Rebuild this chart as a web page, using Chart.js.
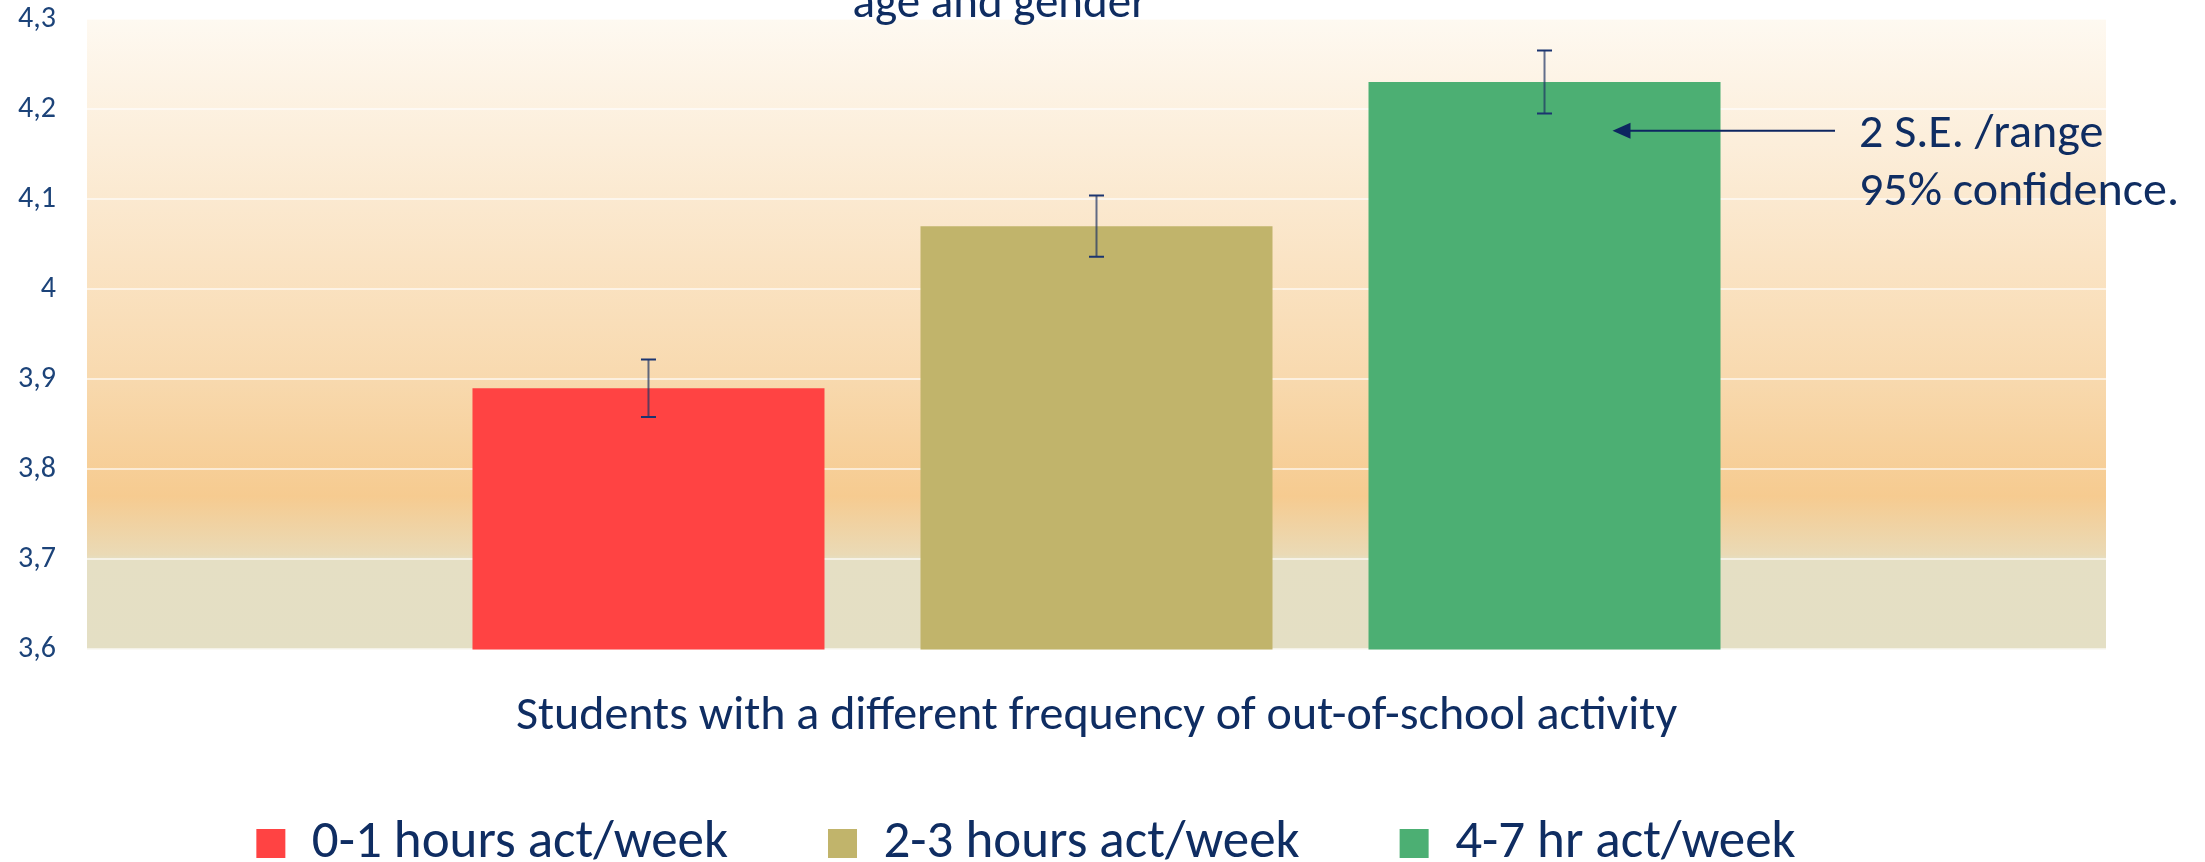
<!DOCTYPE html>
<html>
<head>
<meta charset="utf-8">
<script src="https://cdn.jsdelivr.net/npm/chart.js@4.4.1/dist/chart.umd.min.js"></script>
<style>
  html, body { margin: 0; padding: 0; background: #fff; }
  #wrap { width: 2205px; height: 862px; }
</style>
</head>
<body>
<div id="wrap"><canvas id="chart" width="2205" height="862"></canvas></div>
<script>
// data
const groups = ['0-1 hours act/week', '2-3 hours act/week', '4-7 hr act/week'];
const means = [3.89, 4.07, 4.23];
const errors = [0.032, 0.034, 0.035];   // 2 S.E.
const barColors = ['#ff4343', '#c1b46b', '#4caf73'];
const yTicks = [3.6, 3.7, 3.8, 3.9, 4.0, 4.1, 4.2, 4.3];
const xTitle = 'Students with a different frequency of out-of-school activity';
const titleTail = 'age and gender';
const noteLines = ['2 S.E. /range', '95% confidence.'];
const noteValue = 4.176;

const navy = '#0f2d62';
const fontFamily = 'Carlito, Lato, "Open Sans", sans-serif';
Chart.defaults.font.family = fontFamily;

// orange slide-style background behind the plot
const bgPlugin = {
  id: 'bg',
  beforeDraw(chart) {
    const { ctx, chartArea: a, scales: { y } } = chart;
    const g = ctx.createLinearGradient(0, a.top, 0, a.bottom);
    const stop = (v, c) => {
      const t = (y.getPixelForValue(v) - a.top) / (a.bottom - a.top);
      g.addColorStop(Math.min(1, Math.max(0, t)), c);
    };
    stop(4.3, '#fef9f1');
    stop(4.1, '#fbe9d0');
    stop(3.9, '#f8d9ae');
    stop(3.77, '#f6cb90');
    stop(3.705, '#eadab6');
    stop(3.7, '#e5dfc4');
    stop(3.6, '#e4dfc4');
    ctx.save();
    ctx.fillStyle = g;
    ctx.fillRect(a.left, a.top, a.right - a.left, a.bottom - a.top);
    ctx.restore();
  }
};

// error bars, title tail and the arrow note
const extrasPlugin = {
  id: 'extras',
  afterLayout(chart) {
    // nudge the legend row left like the original slide
    chart.legend.left -= 27;
    chart.legend.right -= 27;
  },
  afterDatasetsDraw(chart) {
    const { ctx, chartArea: a, scales: { y } } = chart;
    ctx.save();
    means.forEach((m, i) => {
      const bar = chart.getDatasetMeta(i).data[0];
      const top = y.getPixelForValue(m + errors[i]);
      const bot = y.getPixelForValue(m - errors[i]);
      ctx.strokeStyle = 'rgba(31,52,100,0.7)';
      ctx.lineWidth = 2;
      ctx.beginPath();
      ctx.moveTo(bar.x, top);
      ctx.lineTo(bar.x, bot);
      ctx.stroke();
      ctx.strokeStyle = '#1b3470';
      ctx.beginPath();
      ctx.moveTo(bar.x - 7.5, top);
      ctx.lineTo(bar.x + 7.5, top);
      ctx.moveTo(bar.x - 7.5, bot);
      ctx.lineTo(bar.x + 7.5, bot);
      ctx.stroke();
    });

    // arrow pointing at the green bar's error bar
    const green = chart.getDatasetMeta(2).data[0];
    const ay = y.getPixelForValue(noteValue);
    const tipX = green.x + 68;
    const tailX = a.right - 271;
    ctx.strokeStyle = '#0d2560';
    ctx.fillStyle = '#0d2560';
    ctx.lineWidth = 2;
    ctx.beginPath();
    ctx.moveTo(tailX, ay);
    ctx.lineTo(tipX + 14, ay);
    ctx.stroke();
    ctx.beginPath();
    ctx.moveTo(tipX, ay);
    ctx.lineTo(tipX + 18, ay - 8);
    ctx.lineTo(tipX + 18, ay + 8);
    ctx.closePath();
    ctx.fill();

    ctx.fillStyle = navy;
    ctx.font = '48px ' + fontFamily;
    ctx.textAlign = 'left';
    ctx.textBaseline = 'alphabetic';
    ctx.fillText(noteLines[0], a.right - 247, 147);
    ctx.fillText(noteLines[1], a.right - 247, 205);

    // second line of the cut-off chart title
    ctx.textAlign = 'center';
    ctx.font = '47px ' + fontFamily;
    ctx.fillText(titleTail, 1000, 17);
    ctx.restore();
  }
};

const chart = new Chart(document.getElementById('chart').getContext('2d'), {
  type: 'bar',
  data: {
    labels: [''],
    datasets: groups.map((g, i) => ({
      label: g,
      data: [means[i]],
      backgroundColor: barColors[i],
      borderWidth: 0,
      categoryPercentage: 0.6657,
      barPercentage: 0.7857
    }))
  },
  options: {
    responsive: false,
    animation: false,
    layout: { padding: { left: 0, right: 99, top: 19, bottom: 0 } },
    scales: {
      x: {
        grid: { display: false, drawTicks: false },
        border: { display: false },
        ticks: { display: false },
        title: {
          display: true,
          text: xTitle,
          color: navy,
          font: { size: 48 },
          padding: { top: 39, bottom: -29 }
        }
      },
      y: {
        min: 3.6,
        max: 4.3,
        afterFit(scale) {
          scale.width = 87;
          // tick padding is only meant to push the labels left
          scale.paddingTop = 0;
          scale.paddingBottom = 0;
        },
        afterBuildTicks(scale) { scale.ticks = yTicks.map(v => ({ value: v })); },
        border: { display: false },
        grid: { color: 'rgba(255,255,255,0.6)', lineWidth: 2, drawTicks: false },
        ticks: {
          color: '#1c4379',
          padding: 31,
          font: { size: 30 },
          callback: v => String(Math.round(v * 10) / 10).replace('.', ',')
        }
      }
    },
    plugins: {
      title: { display: false },
      tooltip: { enabled: false },
      legend: {
        position: 'bottom',
        maxHeight: 145,
        labels: {
          color: navy,
          font: { size: 53 },
          boxWidth: 29,
          boxHeight: 29,
          padding: 100
        }
      }
    }
  },
  plugins: [bgPlugin, extrasPlugin]
});
</script>
</body>
</html>
